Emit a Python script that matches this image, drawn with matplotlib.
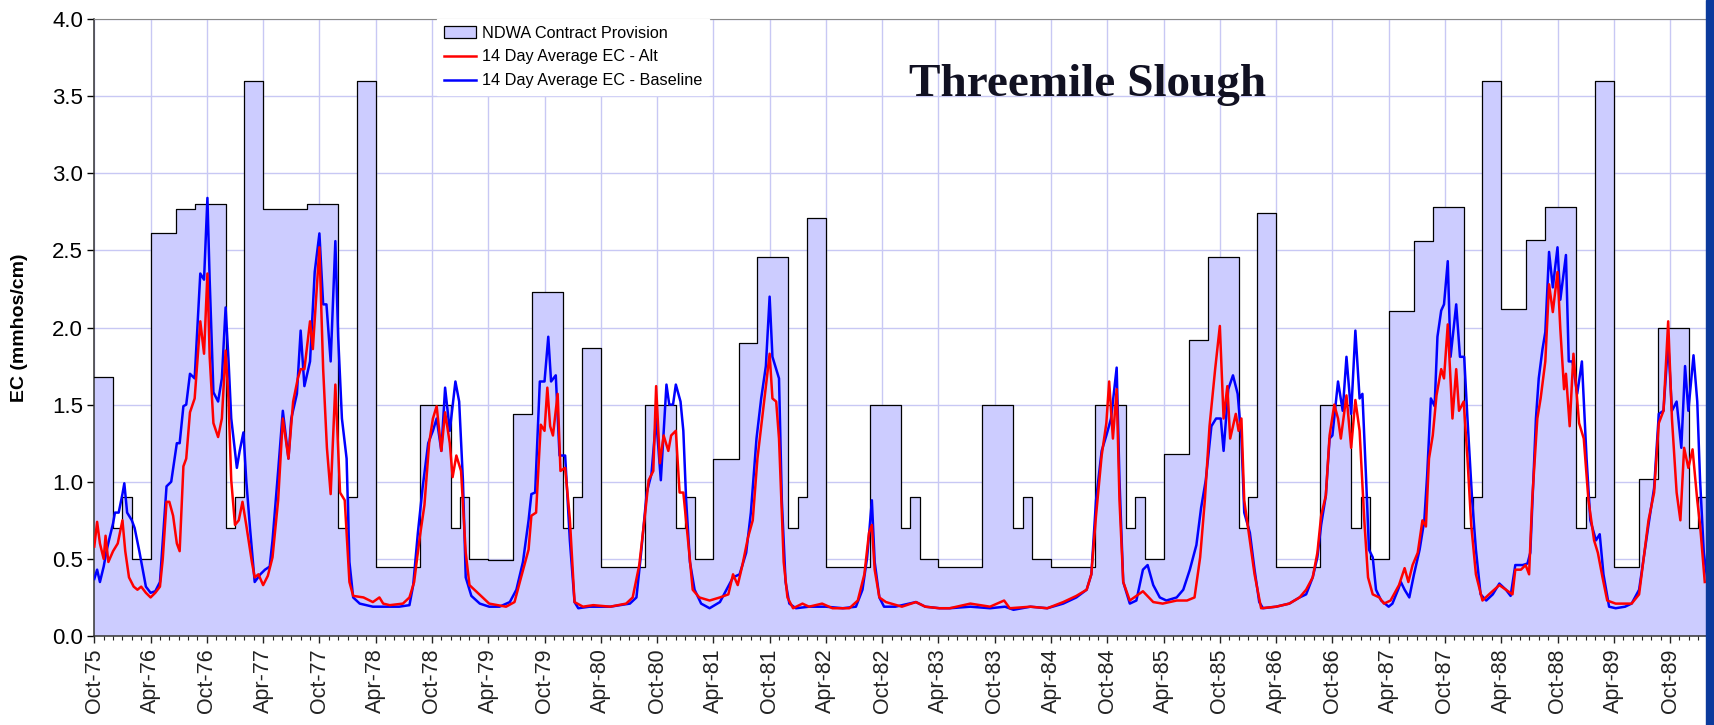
import matplotlib
matplotlib.use('Agg')
import matplotlib.pyplot as plt
from matplotlib.patches import Patch, Rectangle
from matplotlib.lines import Line2D

# NDWA contract provision (mmhos/cm), changes on fixed calendar dates each year
oct75_val = 1.68
dec_val = 0.70
jan_val = 0.90
years = [1976, 1977, 1978, 1979, 1980, 1981, 1982, 1983, 1984, 1985, 1986, 1987, 1988, 1989]
feb_val = [0.50, 3.60, 3.60, 0.50, 1.87, 0.50, 2.71, 0.50, 0.50, 0.50, 2.74, 0.50, 3.60, 3.60]
apr_val = [2.61, 2.77, 0.45, 0.49, 0.45, 1.15, 0.45, 0.45, 0.45, 1.18, 0.45, 2.11, 2.12, 0.45]
jun_val = [2.77, 2.77, 0.45, 1.44, 0.45, 1.90, 0.45, 0.45, 0.45, 1.92, 0.45, 2.56, 2.57, 1.02]
aug_val = [2.80, 2.80, 1.50, 2.23, 1.50, 2.46, 1.50, 1.50, 1.50, 2.46, 1.50, 2.78, 2.78, 2.00]

# 14 day average EC (x = months after 1 Oct 1975)
base_t = [0.0, 0.3, 0.6, 1.0, 1.3, 1.6, 2.0, 2.2, 2.6, 3.0, 3.2, 3.5, 4.0, 4.3, 4.8, 5.5, 6.0, 6.5,
          7.0, 7.4, 7.7, 8.2, 8.8, 9.1, 9.5, 9.8, 10.2, 10.7, 11.3, 11.7, 12.06, 12.3, 12.7, 13.2,
          13.6, 14.0, 14.3, 14.6, 15.2, 15.5, 15.9, 16.2, 16.6, 17.1, 17.7, 18.2, 18.7, 19.0, 19.6,
          20.1, 20.7, 21.0, 21.6, 22.0, 22.4, 23.0, 23.5, 24.0, 24.4, 24.75, 25.2, 25.7, 26.0, 26.4,
          26.9, 27.2, 27.6, 28.3, 29.7, 31.0, 32.5, 33.6, 34.0, 34.5, 35.0, 35.6, 36.1, 36.5, 37.0,
          37.4, 37.9, 38.5, 38.9, 39.3, 39.6, 40.2, 41.1, 42.1, 43.2, 44.3, 45.0, 45.7, 46.3, 46.6,
          47.0, 47.5, 48.0, 48.4, 48.7, 49.2, 49.6, 50.2, 50.7, 51.2, 51.6, 52.8, 55.0, 57.1, 57.8,
          58.3, 58.9, 59.4, 59.9, 60.4, 61.0, 61.3, 61.7, 62.0, 62.5, 62.8, 63.1, 63.5, 64.0, 64.7,
          65.6, 66.7, 67.4, 68.1, 68.8, 69.5, 70.0, 70.6, 71.1, 71.6, 72.0, 72.3, 72.7, 73.0, 73.3,
          73.7, 74.1, 74.8, 76.2, 78.0, 79.8, 81.2, 81.9, 82.4, 82.9, 83.2, 83.7, 84.2, 85.4, 87.6,
          88.6, 90.1, 91.2, 93.4, 95.5, 97.1, 98.0, 99.8, 101.6, 103.3, 104.7, 105.8, 106.3, 106.8,
          107.4, 107.9, 108.4, 109.0, 109.3, 109.7, 110.4, 111.1, 111.8, 112.3, 112.9, 113.6, 114.3,
          115.4, 116.1, 116.8, 117.5, 118.0, 118.5, 119.1, 119.6, 120.1, 120.4, 120.9, 121.4, 121.9,
          122.3, 122.6, 123.2, 123.7, 124.2, 124.6, 126.0, 127.4, 128.5, 129.2, 129.9, 130.4, 130.8,
          131.3, 131.7, 132.0, 132.6, 133.1, 133.5, 134.0, 134.45, 134.9, 135.2, 135.6, 135.9, 136.3,
          136.65, 137.2, 138.0, 138.4, 139.0, 139.3, 139.7, 140.2, 140.7, 141.3, 141.8, 142.1, 142.5,
          142.9, 143.2, 143.6, 143.9, 144.3, 144.6, 145.0, 145.2, 145.6, 146.05, 146.4, 146.9, 147.3,
          147.8, 148.4, 149.1, 149.8, 150.5, 151.0, 151.5, 152.3, 152.8, 153.1, 153.7, 154.0, 154.4,
          154.7, 155.1, 155.5, 156.0, 156.3, 156.9, 157.2, 157.6, 158.1, 158.6, 159.1, 159.5, 160.1,
          160.5, 160.9, 161.5, 162.2, 163.2, 163.9, 164.7, 165.2, 165.7, 166.3, 166.8, 167.3, 167.8,
          168.2, 168.7, 169.2, 169.6, 169.95, 170.5, 170.9, 171.2, 171.6, 172.0]
base_ec = [0.37, 0.43, 0.35, 0.45, 0.55, 0.63, 0.73, 0.80, 0.80, 0.92, 0.99, 0.80, 0.75, 0.70, 0.55,
           0.32, 0.28, 0.29, 0.35, 0.70, 0.97, 1.00, 1.25, 1.25, 1.49, 1.50, 1.70, 1.67, 2.35, 2.31,
           2.84, 2.31, 1.58, 1.52, 1.67, 2.13, 1.80, 1.41, 1.09, 1.20, 1.32, 1.01, 0.70, 0.35, 0.40,
           0.43, 0.45, 0.62, 1.07, 1.46, 1.15, 1.41, 1.57, 1.98, 1.62, 1.78, 2.36, 2.61, 2.15, 2.15,
           1.78, 2.56, 1.94, 1.41, 1.15, 0.48, 0.25, 0.21, 0.19, 0.19, 0.19, 0.20, 0.33, 0.67, 0.96,
           1.25, 1.33, 1.41, 1.20, 1.61, 1.33, 1.65, 1.52, 1.01, 0.38, 0.26, 0.21, 0.19, 0.19, 0.22,
           0.30, 0.48, 0.75, 0.92, 0.93, 1.65, 1.65, 1.94, 1.65, 1.69, 1.17, 1.17, 0.62, 0.22, 0.18,
           0.19, 0.19, 0.21, 0.25, 0.54, 0.93, 1.05, 1.41, 1.01, 1.63, 1.50, 1.50, 1.63, 1.52, 1.33,
           0.88, 0.48, 0.30, 0.21, 0.18, 0.22, 0.30, 0.38, 0.40, 0.54, 0.80, 1.28, 1.54, 1.75, 2.20,
           1.81, 1.73, 1.67, 0.88, 0.35, 0.21, 0.18, 0.19, 0.19, 0.18, 0.19, 0.30, 0.51, 0.88, 0.48,
           0.25, 0.19, 0.19, 0.22, 0.19, 0.18, 0.18, 0.19, 0.18, 0.19, 0.17, 0.19, 0.18, 0.21, 0.25,
           0.30, 0.40, 0.88, 1.20, 1.30, 1.41, 1.74, 1.01, 0.35, 0.21, 0.23, 0.43, 0.46, 0.33, 0.25,
           0.23, 0.25, 0.30, 0.43, 0.59, 0.83, 1.01, 1.36, 1.41, 1.41, 1.20, 1.60, 1.69, 1.57, 1.28,
           0.80, 0.67, 0.43, 0.22, 0.18, 0.19, 0.21, 0.25, 0.27, 0.38, 0.51, 0.72, 0.91, 1.28, 1.30,
           1.65, 1.46, 1.81, 1.44, 1.98, 1.54, 1.57, 1.01, 0.56, 0.51, 0.30, 0.23, 0.19, 0.21, 0.30,
           0.35, 0.30, 0.25, 0.40, 0.56, 0.75, 1.04, 1.54, 1.49, 1.94, 2.11, 2.15, 2.43, 1.81, 2.04,
           2.15, 1.81, 1.81, 1.41, 0.88, 0.56, 0.27, 0.23, 0.27, 0.34, 0.30, 0.26, 0.46, 0.46, 0.47,
           0.54, 1.41, 1.67, 1.86, 1.97, 2.49, 2.26, 2.52, 2.18, 2.47, 1.78, 1.78, 1.57, 1.78, 1.15,
           0.75, 0.62, 0.66, 0.40, 0.19, 0.18, 0.19, 0.21, 0.30, 0.51, 0.72, 0.96, 1.44, 1.46, 1.91,
           1.46, 1.52, 1.22, 1.75, 1.46, 1.82, 1.52, 1.01, 0.54, 0.35]

alt_t = [0.0, 0.3, 0.6, 1.0, 1.2, 1.5, 2.0, 2.5, 3.0, 3.3, 3.7, 4.2, 4.6, 5.0, 5.5, 6.0, 6.5, 7.0,
         7.3, 7.7, 8.0, 8.4, 8.8, 9.1, 9.5, 9.8, 10.2, 10.7, 11.3, 11.7, 12.06, 12.3, 12.7, 13.2,
         13.6, 14.0, 14.3, 14.6, 15.0, 15.4, 15.8, 16.2, 16.8, 17.1, 17.5, 18.0, 18.5, 19.0, 19.6,
         20.1, 20.7, 21.2, 21.7, 22.0, 22.4, 23.0, 23.3, 24.0, 24.4, 24.8, 25.2, 25.7, 26.2, 26.7,
         27.2, 27.6, 28.7, 29.7, 30.4, 30.8, 31.5, 32.9, 33.6, 34.1, 34.7, 35.2, 35.7, 36.1, 36.5,
         37.0, 37.4, 37.9, 38.2, 38.6, 39.1, 39.6, 40.0, 40.7, 41.4, 42.1, 43.9, 44.8, 45.5, 46.3,
         46.6, 47.1, 47.6, 48.0, 48.3, 48.6, 48.9, 49.4, 49.7, 50.2, 50.7, 51.2, 52.1, 53.2, 55.0,
         56.7, 57.4, 58.1, 58.7, 59.1, 59.6, 59.9, 60.3, 60.7, 61.2, 61.5, 62.0, 62.4, 62.8, 63.3,
         63.8, 64.5, 65.6, 66.7, 67.6, 68.1, 68.6, 69.1, 69.7, 70.2, 70.7, 71.3, 71.7, 72.0, 72.3,
         72.7, 73.0, 73.5, 73.9, 74.5, 75.5, 76.2, 77.6, 78.7, 80.5, 81.4, 82.1, 82.6, 82.9, 83.2,
         83.7, 84.4, 86.1, 87.6, 88.6, 90.1, 91.2, 93.4, 95.5, 97.0, 97.6, 99.8, 101.6, 103.3, 104.7,
         105.8, 106.3, 106.8, 107.4, 107.9, 108.2, 108.6, 109.0, 109.3, 109.7, 110.4, 111.8, 112.9,
         113.9, 115.4, 116.5, 117.3, 117.9, 118.4, 118.9, 119.5, 120.0, 120.4, 120.8, 121.1, 121.7,
         122.0, 122.3, 122.6, 123.2, 123.7, 124.4, 126.0, 127.4, 128.5, 129.2, 129.9, 130.4, 130.8,
         131.3, 131.7, 132.2, 132.6, 132.9, 133.5, 134.0, 134.45, 134.9, 135.4, 135.8, 136.3, 137.0,
         137.5, 138.2, 139.1, 139.7, 140.1, 140.55, 141.1, 141.6, 141.97, 142.3, 142.7, 143.1, 143.6,
         143.9, 144.3, 144.6, 144.8, 145.2, 145.5, 146.0, 146.4, 146.8, 147.3, 148.0, 148.7, 149.8,
         150.5, 151.2, 151.5, 152.1, 152.6, 152.97, 153.3, 153.85, 154.2, 154.7, 155.1, 155.5, 156.0,
         156.3, 156.7, 156.9, 157.3, 157.7, 158.3, 158.8, 159.3, 159.9, 160.3, 160.8, 161.3, 162.2,
         163.2, 163.9, 164.7, 165.2, 165.7, 166.3, 166.8, 167.3, 167.8, 168.2, 168.7, 169.1, 169.5,
         169.95, 170.4, 170.9, 171.2, 171.7]
alt_ec = [0.58, 0.74, 0.60, 0.50, 0.65, 0.48, 0.55, 0.60, 0.75, 0.55, 0.38, 0.32, 0.30, 0.32, 0.28,
          0.25, 0.28, 0.32, 0.50, 0.87, 0.87, 0.78, 0.60, 0.55, 1.10, 1.15, 1.45, 1.54, 2.04, 1.83,
          2.35, 1.81, 1.38, 1.29, 1.41, 1.85, 1.54, 1.01, 0.72, 0.75, 0.87, 0.72, 0.48, 0.38, 0.40,
          0.33, 0.39, 0.51, 0.88, 1.41, 1.15, 1.52, 1.67, 1.73, 1.73, 2.04, 1.86, 2.52, 1.73, 1.22,
          0.92, 1.63, 0.93, 0.88, 0.35, 0.26, 0.25, 0.22, 0.25, 0.21, 0.20, 0.21, 0.25, 0.35, 0.64,
          0.85, 1.25, 1.41, 1.49, 1.20, 1.45, 1.25, 1.03, 1.17, 1.07, 0.54, 0.33, 0.29, 0.25, 0.21,
          0.19, 0.22, 0.38, 0.56, 0.78, 0.80, 1.37, 1.33, 1.61, 1.36, 1.30, 1.57, 1.07, 1.09, 0.76,
          0.22, 0.19, 0.20, 0.19, 0.21, 0.25, 0.46, 0.78, 1.01, 1.07, 1.62, 1.12, 1.30, 1.20, 1.30,
          1.33, 0.93, 0.93, 0.62, 0.30, 0.25, 0.23, 0.25, 0.27, 0.40, 0.33, 0.46, 0.64, 0.75, 1.15,
          1.46, 1.67, 1.83, 1.54, 1.52, 1.28, 0.48, 0.25, 0.18, 0.21, 0.19, 0.21, 0.18, 0.18, 0.23,
          0.40, 0.67, 0.72, 0.43, 0.25, 0.22, 0.19, 0.22, 0.19, 0.18, 0.18, 0.21, 0.19, 0.23, 0.18,
          0.19, 0.18, 0.22, 0.26, 0.30, 0.40, 0.78, 1.17, 1.38, 1.65, 1.28, 1.60, 0.88, 0.35, 0.23,
          0.29, 0.22, 0.21, 0.23, 0.23, 0.25, 0.51, 0.88, 1.36, 1.73, 2.01, 1.41, 1.62, 1.28, 1.44,
          1.33, 1.41, 0.88, 0.62, 0.40, 0.18, 0.19, 0.21, 0.25, 0.30, 0.38, 0.54, 0.78, 0.91, 1.30,
          1.50, 1.41, 1.28, 1.56, 1.22, 1.53, 1.33, 0.75, 0.38, 0.27, 0.25, 0.21, 0.23, 0.33, 0.44,
          0.35, 0.46, 0.54, 0.75, 0.71, 1.15, 1.30, 1.56, 1.73, 1.67, 2.02, 1.65, 1.41, 1.73, 1.46,
          1.52, 1.15, 0.72, 0.40, 0.23, 0.27, 0.33, 0.30, 0.27, 0.43, 0.43, 0.46, 0.40, 0.88, 1.41,
          1.54, 1.78, 2.28, 2.10, 2.36, 1.99, 1.60, 1.70, 1.36, 1.83, 1.38, 1.28, 0.88, 0.62, 0.54,
          0.38, 0.23, 0.21, 0.21, 0.21, 0.27, 0.51, 0.75, 0.93, 1.38, 1.46, 2.04, 1.41, 0.93, 0.75,
          1.22, 1.09, 1.21, 0.88, 0.72, 0.35]

tick_labels = ['Oct-75', 'Apr-76', 'Oct-76', 'Apr-77', 'Oct-77', 'Apr-78', 'Oct-78', 'Apr-79',
               'Oct-79', 'Apr-80', 'Oct-80', 'Apr-81', 'Oct-81', 'Apr-82', 'Oct-82', 'Apr-83',
               'Oct-83', 'Apr-84', 'Oct-84', 'Apr-85', 'Oct-85', 'Apr-86', 'Oct-86', 'Apr-87',
               'Oct-87', 'Apr-88', 'Oct-88', 'Apr-89', 'Oct-89']


def months(y, m, d=1):
    return (y - 1975) * 12 + (m - 10) + (d - 1) / 30.4


x_end = 171.8

# build the NDWA step series
step_x = [months(1975, 10), months(1975, 12)]
step_y = [oct75_val, dec_val]
for i, y in enumerate(years):
    step_x += [months(y, 1), months(y, 2), months(y, 4), months(y, 6, 22), months(y, 8, 22), months(y, 12)]
    step_y += [jan_val, feb_val[i], apr_val[i], jun_val[i], aug_val[i], dec_val]
step_x += [months(1990, 1), x_end + 1]
step_y += [jan_val, jan_val]

plt.rcParams['font.family'] = ['Liberation Sans', 'DejaVu Sans']

fig = plt.figure(figsize=(17.14, 7.25), dpi=100)
ax = fig.add_axes([94.3 / 1714, 1 - 636 / 725, (1705.7 - 94.3) / 1714, 617 / 725])

fill_c = '#CCCCFF'
ax.fill_between(step_x, step_y, 0, step='post', color=fill_c, lw=0, zorder=2)
ax.plot(step_x, step_y, drawstyle='steps-post', color='black', lw=0.9, zorder=3)
ax.plot(base_t, base_ec, color='#0000FF', lw=1.8, zorder=4)
ax.plot(alt_t, alt_ec, color='#FF0000', lw=1.8, zorder=5)

ax.set_xlim(0, x_end)
ax.set_ylim(0, 4.0)
ax.set_xticks([6 * i for i in range(len(tick_labels))])
ax.set_xticklabels(tick_labels, rotation=90, fontsize=15.5)
ax.set_xticks(range(0, int(x_end) + 1), minor=True)
ax.set_yticks([0.5 * i for i in range(9)])
ax.set_yticklabels(['%.1f' % (0.5 * i) for i in range(9)], fontsize=16)
ax.tick_params(axis='x', which='major', length=5, width=1, direction='out', pad=4, colors='#222222')
ax.tick_params(axis='x', which='minor', length=3, width=0.8, direction='out', color='#222222')
ax.tick_params(axis='y', length=5, width=1, direction='out', pad=3)

ax.set_axisbelow(True)
ax.grid(True, which='major', color='#C8C8F4', lw=1.0)
for s in ['left', 'bottom']:
    ax.spines[s].set_color('#333333')
    ax.spines[s].set_linewidth(1.1)
ax.spines['top'].set_color('#888888')
ax.spines['right'].set_visible(False)

fig.text(20 / 1714, 0.548, 'EC (mmhos/cm)', rotation=90, fontsize=14, fontweight='bold',
         ha='center', va='center')
fig.text(1088 / 1714, 1 - 96 / 725, 'Threemile Slough', fontsize=34, fontweight='bold',
         family=['Liberation Serif', 'DejaVu Serif'], ha='center', va='baseline', color='#111122')

handles = [Patch(facecolor=fill_c, edgecolor='black', lw=0.9),
           Line2D([], [], color='#FF0000', lw=1.8),
           Line2D([], [], color='#0000FF', lw=1.8)]
labels = ['NDWA Contract Provision', '14 Day Average EC - Alt', '14 Day Average EC - Baseline']
leg = ax.legend(handles, labels, loc='upper left', bbox_to_anchor=((437 - 94.3) / 1611.4, 1.0),
                borderaxespad=0, fontsize=11.7, frameon=True, fancybox=False, framealpha=1,
                edgecolor='white', facecolor='white', handlelength=2.0, handletextpad=0.35,
                labelspacing=0.55, borderpad=0.4)
leg.set_zorder(6)

# slide border on the right
fig.patches.append(Rectangle((1706 / 1714, 0), 1, 1, transform=fig.transFigure,
                             color='#0B3A9C', zorder=10))

fig.savefig('out.png', dpi=100)
